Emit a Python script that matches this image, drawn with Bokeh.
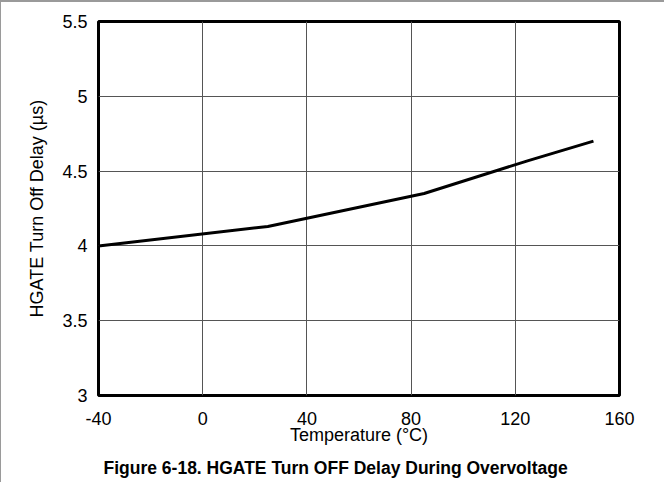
from bokeh.plotting import figure
from bokeh.models import Range1d, FixedTicker, Title
from bokeh.embed import file_html
from bokeh.resources import INLINE

# HGATE turn-off delay versus junction temperature
temperature_c = [-40, 25, 85, 125, 150]
delay_us = [4.0, 4.13, 4.35, 4.57, 4.7]

x_ticks = [-40, 0, 40, 80, 120, 160]
y_ticks = [3, 3.5, 4, 4.5, 5, 5.5]

FONT = "Liberation Sans"

p = figure(
    frame_width=521, frame_height=374,
    min_border_left=97, min_border_right=45,
    min_border_top=19, min_border_bottom=87,
    output_backend="svg", toolbar_location=None,
    x_range=Range1d(-40, 160), y_range=Range1d(3, 5.5),
)
p.styles = {"border-top": "2px solid #9a9a9a", "border-left": "1px solid #9a9a9a"}

p.outline_line_color = "black"
p.outline_line_width = 3
p.outline_line_alpha = 1.0

for ax in (p.xaxis[0], p.yaxis[0]):
    ax.axis_line_color = None
    ax.major_tick_line_color = None
    ax.minor_tick_line_color = None
    ax.major_label_text_font = FONT
    ax.major_label_text_font_size = "18px"
    ax.major_label_text_color = "black"
    ax.axis_label_text_font = FONT
    ax.axis_label_text_font_size = "18px"
    ax.axis_label_text_font_style = "normal"
    ax.axis_label_text_color = "black"

p.xaxis.ticker = FixedTicker(ticks=x_ticks)
p.yaxis.ticker = FixedTicker(ticks=y_ticks)
p.xaxis.major_label_overrides = {t: str(t) for t in x_ticks}
p.yaxis.major_label_overrides = {t: ("%g" % t) for t in y_ticks}
p.xaxis.major_label_standoff = 10
p.yaxis.major_label_standoff = 5
p.xaxis.axis_label = "Temperature (\u00b0C)"
p.yaxis.axis_label = "HGATE Turn Off Delay (\u00b5s)"
p.xaxis.axis_label_standoff = -3
p.yaxis.axis_label_standoff = 12

p.grid.grid_line_color = "#555555"
p.grid.grid_line_width = 1
p.grid.grid_line_alpha = 1.0

p.line(temperature_c, delay_us, line_color="black", line_width=3)

caption = Title(
    text="Figure 6-18. HGATE Turn OFF Delay During Overvoltage",
    align="left", text_font=FONT, text_font_size="17.5px",
    text_font_style="bold", text_color="black", standoff=16, offset=5,
)
p.add_layout(caption, "below")

open("out.html", "w").write(file_html(p, INLINE))
